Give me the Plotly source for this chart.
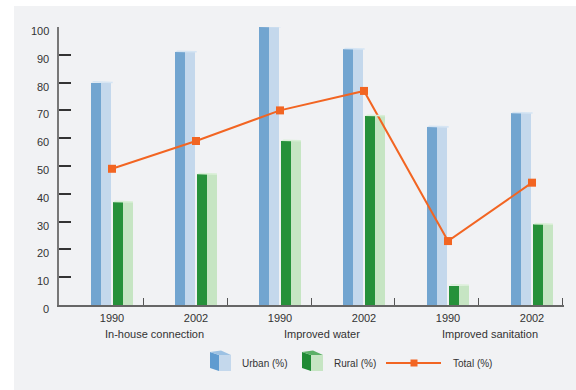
import plotly.graph_objects as go

groups = ["In-house connection", "Improved water", "Improved sanitation"]
years = ["1990", "2002", "1990", "2002", "1990", "2002"]
urban = [80, 91, 100, 92, 64, 69]
rural = [37, 47, 59, 68, 7, 29]
total = [49, 59, 70, 77, 23, 44]
y_ticks = [0, 10, 20, 30, 40, 50, 60, 70, 80, 90, 100]

W, H = 576, 390
ML, MR, MT, MB = 59, 12, 27, 85
PW = W - ML - MR
PH = H - MT - MB

def px(x):
    return (x - ML) / PW

def py(y):
    return (H - MB - y) / PH

pos = list(range(len(years)))
BW = 0.119
BLUE_D, BLUE_L, BLUE_T = "#72a5d0", "#c4d8ec", "#d6e5f3"
GREEN_D, GREEN_L, GREEN_T = "#26913a", "#c6e5c3", "#d9efd6"
ORANGE = "#f26522"
FONT = "Arial"
TXT = "#333333"

fig = go.Figure()

def add_bar(vals, off, color):
    fig.add_trace(go.Bar(x=[p + off for p in pos], y=vals, width=BW,
                         marker=dict(color=color, line=dict(width=0)),
                         showlegend=False, hoverinfo="skip"))

add_bar(urban, -0.190, BLUE_D)
add_bar(urban, -0.071, BLUE_L)
add_bar(rural, 0.071, GREEN_D)
add_bar(rural, 0.190, GREEN_L)

fig.add_trace(go.Scatter(x=pos, y=total, mode="lines+markers",
                         line=dict(color=ORANGE, width=2),
                         marker=dict(symbol="square", size=8, color=ORANGE),
                         showlegend=False, hoverinfo="skip"))

shapes = []
shapes.append(dict(type="rect", xref="paper", yref="paper",
                   x0=px(14), x1=px(W + 2), y0=py(6), y1=py(H + 2),
                   fillcolor="#f1f2f4", line=dict(width=0), layer="below"))

def cap(vals, xl, xr, color):
    for p, v in zip(pos, vals):
        a, b = p + xl, p + xr
        shapes.append(dict(type="path", xref="x", yref="y",
                           path=f"M {a},{v} L {a+0.03},{v+0.55} L {b},{v+0.35} L {b},{v-0.2} Z",
                           fillcolor=color, line=dict(width=0)))

cap(urban, -0.2495, 0.0085, BLUE_T)
cap(rural, 0.0115, 0.2495, GREEN_T)

def cube(x0, dark, light, top):
    xm, x1 = x0 + 9, x0 + 21
    y0, yt, yb = 351, 355, 371
    shapes.append(dict(type="path", xref="paper", yref="paper",
                       path=f"M {px(x0)},{py(y0+1)} L {px(xm)},{py(yt)} L {px(xm)},{py(yb)} L {px(x0)},{py(yb-3)} Z",
                       fillcolor=dark, line=dict(width=0)))
    shapes.append(dict(type="path", xref="paper", yref="paper",
                       path=f"M {px(xm)},{py(yt)} L {px(x1)},{py(yt)} L {px(x1)},{py(yb)} L {px(xm)},{py(yb)} Z",
                       fillcolor=light, line=dict(width=0)))
    shapes.append(dict(type="path", xref="paper", yref="paper",
                       path=f"M {px(x0)},{py(y0+1)} L {px(x0+11)},{py(y0-0.5)} L {px(x1)},{py(yt)} L {px(xm)},{py(yt)} Z",
                       fillcolor=top, line=dict(width=0)))

cube(210, "#5f9bd0", BLUE_L, "#9cc1e3")
cube(302, "#1f8a34", GREEN_L, "#5cb067")
shapes.append(dict(type="line", xref="paper", yref="paper",
                   x0=px(386), x1=px(441), y0=py(363), y1=py(363),
                   line=dict(color=ORANGE, width=2)))
shapes.append(dict(type="rect", xref="paper", yref="paper",
                   x0=px(410.5), x1=px(417.5), y0=py(359.5), y1=py(366.5),
                   fillcolor=ORANGE, line=dict(width=0)))

annotations = []
for i, g in enumerate(groups):
    annotations.append(dict(x=2 * i + 0.5, y=py(333.5), xref="x", yref="paper",
                            text=g, showarrow=False, xanchor="center", yanchor="middle",
                            font=dict(size=11, color=TXT, family=FONT)))
for txt, x in [("Urban (%)", 240), ("Rural (%)", 332), ("Total (%)", 451)]:
    annotations.append(dict(x=px(x), y=py(363), xref="paper", yref="paper",
                            text=txt, showarrow=False, xanchor="left", yanchor="middle",
                            font=dict(size=10, color=TXT, family=FONT)))
for t in y_ticks:
    annotations.append(dict(x=px(51), y=t, xref="paper", yref="y", yshift=-4,
                            text=str(t), showarrow=False, xanchor="right", yanchor="middle",
                            font=dict(size=11, color=TXT, family=FONT)))

xr = [-0.631, 5.381]
fig.update_layout(
    width=W, height=H,
    margin=dict(l=ML, r=MR, t=MT, b=MB),
    paper_bgcolor="white", plot_bgcolor="rgba(0,0,0,0)",
    barmode="overlay", bargap=0,
    font=dict(family=FONT, color=TXT),
    shapes=shapes, annotations=annotations,
    xaxis=dict(range=xr, tickvals=pos, ticktext=years, ticks="",
               showgrid=False, zeroline=False, showline=True,
               linecolor="#666666", linewidth=1.5,
               tickfont=dict(size=11, color=TXT, family=FONT),
               ticklabelstandoff=2),
    xaxis2=dict(range=xr, overlaying="x", anchor="y", side="bottom",
                tickvals=[p + 0.369 for p in pos], ticks="inside", ticklen=7,
                tickwidth=1.2, tickcolor="#555555", showticklabels=False,
                showgrid=False, zeroline=False, showline=False),
    yaxis=dict(range=[0, 100], tickvals=y_ticks, ticks="inside", ticklen=12,
               tickwidth=1.5, tickcolor="#333333", showticklabels=False,
               showgrid=False, zeroline=False, showline=True,
               linecolor="#777777", linewidth=2),
)
fig.add_trace(go.Scatter(x=[xr[0]], y=[0], xaxis="x2", mode="markers",
                         marker=dict(opacity=0), showlegend=False, hoverinfo="skip"))

fig.write_html("out.html")
